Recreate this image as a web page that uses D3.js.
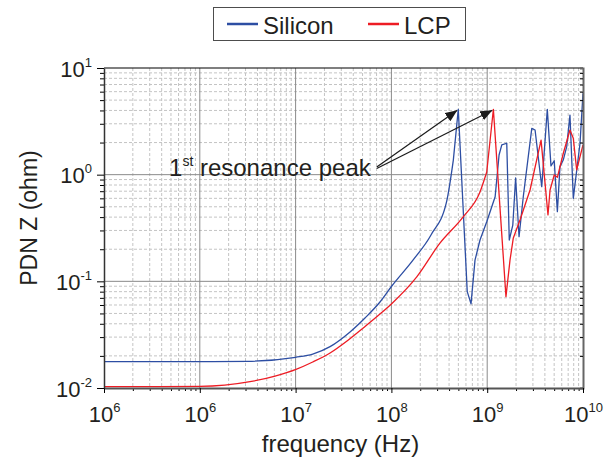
<!DOCTYPE html>
<html>
<head>
<meta charset="utf-8">
<script src="https://cdn.jsdelivr.net/npm/d3@7"></script>
<style>
  body { margin: 0; background: #fff; }
  svg text { font-family: "Liberation Sans", Arial, sans-serif; fill: #231f20; }
</style>
</head>
<body>
<div id="chart"></div>
<script>
// Giá trị: tần số (Hz) và trở kháng PDN (ohm)
const siliconFreq = [1e5, 1e6, 3.16e6, 1.0e7, 1.51e7, 2.29e7, 3.70e7, 5.30e7, 7.6e7, 1.01e8,
  1.68e8, 2.59e8, 3.78e8, 4.43e8, 4.99e8, 6.19e8, 6.78e8, 7.46e8, 8.41e8, 9.89e8,
  1.21e9, 1.33e9, 1.42e9, 1.60e9, 1.70e9, 1.85e9, 1.98e9, 2.15e9, 2.38e9, 2.92e9,
  3.16e9, 3.71e9, 4.24e9, 4.63e9, 5.01e9, 5.40e9, 5.75e9, 6.22e9, 6.76e9, 7.31e9,
  7.92e9, 9.31e9, 1.0e10];
const siliconZ = [0.01766, 0.01766, 0.0178, 0.0194, 0.0208, 0.0244, 0.0335, 0.0453, 0.064, 0.0904,
  0.158, 0.272, 0.566, 1.37, 4.10, 0.080, 0.0614, 0.158, 0.244, 0.362,
  0.621, 1.53, 1.90, 1.97, 0.244, 0.337, 0.931, 0.262, 0.621, 2.72,
  2.62, 0.771, 4.10, 1.21, 1.35, 0.450, 1.19, 1.37, 1.83, 3.62,
  0.600, 1.97, 5.8];

const lcpFreq = [1e5, 1e6, 3.34e6, 6.10e6, 1.01e7, 1.51e7, 2.29e7, 3.44e7, 5.08e7, 7.6e7,
  1.0e8, 1.84e8, 3.21e8, 5.64e8, 8.41e8, 9.89e8, 1.16e9, 1.57e9, 1.73e9, 1.87e9,
  2.20e9, 2.80e9, 3.65e9, 4.31e9, 4.53e9, 5.01e9, 5.40e9, 6.22e9, 7.31e9, 7.92e9,
  8.59e9, 1.0e10];
const lcpZ = [0.0103, 0.01035, 0.01146, 0.01294, 0.01496, 0.01754, 0.0213, 0.0276, 0.0366, 0.0494,
  0.0614, 0.110, 0.228, 0.404, 0.689, 1.06, 4.10, 0.0718, 0.158, 0.253,
  0.376, 0.718, 2.11, 0.419, 0.718, 0.993, 0.944, 1.58, 2.62, 2.19,
  1.11, 1.90];

// đoạn đầu (trơn) của mỗi đường kết thúc ở chỉ số này, sau đó là các đỉnh cộng hưởng
const siliconSmoothEnd = 13;
const lcpSmoothEnd = 15;

// Nhãn trục (số mũ của 10) - giữ nguyên như hình gốc
const xTickValues = [1e5, 1e6, 1e7, 1e8, 1e9, 1e10];
const xTickExp = ["6", "6", "7", "8", "9", "10"];
const yTickValues = [1e-2, 1e-1, 1e0, 1e1];
const yTickExp = ["-2", "-1", "0", "1"];

// Điểm đuôi mũi tên của chú thích (theo toạ độ dữ liệu)
const annotTail = { f: 7.03e7, z: 1.18 };
const seriesNames = ["Silicon", "LCP"];
const seriesColors = ["#2d4ea3", "#ed1c24"];

function drawChart(containerSelector) {
    const W = 615, H = 464;
    const margin = { top: 68, right: 32, bottom: 76, left: 104 };
    const width = W - margin.left - margin.right;
    const height = H - margin.top - margin.bottom;

    const root = d3.select(containerSelector).append("svg")
        .attr("width", W)
        .attr("height", H);

    const svg = root.append("g")
        .attr("transform", `translate(${margin.left},${margin.top})`);

    const x = d3.scaleLog().domain([1e5, 1e10]).range([0, width]);
    const y = d3.scaleLog().domain([1e-2, 1e1]).range([height, 0]);

    // vạch phụ 2..9 trong mỗi decade
    const minorX = [];
    for (let e = 5; e < 10; e++) for (let k = 2; k <= 9; k++) minorX.push(k * 10 ** e);
    const minorY = [];
    for (let e = -2; e < 1; e++) for (let k = 2; k <= 9; k++) minorY.push(k * 10 ** e);

    // Lưới phụ (nét đứt)
    svg.append("g").selectAll("line").data(minorX).join("line")
        .attr("x1", d => x(d)).attr("x2", d => x(d))
        .attr("y1", 0).attr("y2", height)
        .attr("stroke", "#c4c4c4").attr("stroke-dasharray", "3,2");
    svg.append("g").selectAll("line").data(minorY).join("line")
        .attr("y1", d => y(d)).attr("y2", d => y(d))
        .attr("x1", 0).attr("x2", width)
        .attr("stroke", "#c4c4c4").attr("stroke-dasharray", "3,2");

    // Lưới chính
    svg.append("g").selectAll("line").data(xTickValues.slice(1, -1)).join("line")
        .attr("x1", d => x(d)).attr("x2", d => x(d))
        .attr("y1", 0).attr("y2", height)
        .attr("stroke", "#8a8a8a");
    svg.append("g").selectAll("line").data(yTickValues.slice(1, -1)).join("line")
        .attr("y1", d => y(d)).attr("y2", d => y(d))
        .attr("x1", 0).attr("x2", width)
        .attr("stroke", "#8a8a8a");

    // Đường dữ liệu: phần trơn dùng curveMonotoneX, phần cộng hưởng nối thẳng
    const smoothLine = d3.line().curve(d3.curveMonotoneX)
        .x(d => x(d[0])).y(d => y(d[1]));
    const sharpLine = d3.line()
        .x(d => x(d[0])).y(d => y(d[1]));

    function drawSeries(freq, z, smoothEnd, color) {
        const pts = freq.map((f, i) => [f, z[i]]);
        const d = smoothLine(pts.slice(0, smoothEnd + 1)) +
            sharpLine(pts.slice(smoothEnd)).replace(/^M/, "L");
        svg.append("path")
            .attr("fill", "none").attr("stroke", color)
            .attr("stroke-width", 1.3).attr("stroke-linejoin", "round")
            .attr("d", d);
    }
    drawSeries(siliconFreq, siliconZ, siliconSmoothEnd, seriesColors[0]);
    drawSeries(lcpFreq, lcpZ, lcpSmoothEnd, seriesColors[1]);

    // Khung: trên và phải
    svg.append("line").attr("x1", 0).attr("x2", width).attr("y1", 0).attr("y2", 0)
        .attr("stroke", "#000").attr("stroke-width", 1.2);
    const rightMinor = svg.append("g").attr("transform", `translate(${width},0)`)
        .call(d3.axisRight(y).tickValues(minorY).tickSize(-3).tickFormat(""));
    rightMinor.select(".domain").attr("stroke", "#666").attr("stroke-width", 2);
    rightMinor.selectAll(".tick line").attr("stroke", "#000");

    // Trục X
    svg.append("g").attr("transform", `translate(0,${height})`)
        .call(d3.axisBottom(x).tickValues(minorX).tickSize(3).tickFormat(""))
        .call(g => g.select(".domain").remove());
    const xAxis = svg.append("g").attr("transform", `translate(0,${height})`)
        .call(d3.axisBottom(x).tickValues(xTickValues).tickSize(5).tickSizeOuter(0));
    xAxis.select(".domain").attr("stroke", "#555").attr("stroke-width", 1.8);
    xAxis.selectAll(".tick text")
        .attr("y", 34).attr("dy", null)
        .attr("font-size", 22)
        .each(function(d, i) {
            const t = d3.select(this).text(null);
            t.append("tspan").text("10");
            t.append("tspan").attr("dy", -10).attr("font-size", 13).text(xTickExp[i]);
        });

    // Trục Y
    svg.append("g")
        .call(d3.axisLeft(y).tickValues(minorY).tickSize(4).tickFormat(""))
        .call(g => g.select(".domain").remove());
    const yAxis = svg.append("g")
        .call(d3.axisLeft(y).tickValues(yTickValues).tickSize(7).tickSizeOuter(0));
    yAxis.select(".domain").attr("stroke", "#333").attr("stroke-width", 1.5);
    yAxis.selectAll(".tick text")
        .attr("x", -12).attr("dy", 8)
        .attr("font-size", 22)
        .each(function(d, i) {
            const t = d3.select(this).text(null);
            t.append("tspan").text("10");
            t.append("tspan").attr("dy", -10).attr("font-size", 13).text(yTickExp[i]);
        });

    // Tiêu đề trục
    svg.append("text")
        .attr("x", width / 2 - 3).attr("y", height + 64)
        .attr("text-anchor", "middle").attr("font-size", 24)
        .text("frequency (Hz)");
    svg.append("text")
        .attr("transform", `translate(${-margin.left + 37},${height / 2 - 10}) rotate(-90)`)
        .attr("text-anchor", "middle").attr("font-size", 23)
        .text("PDN Z (ohm)");

    // Chú thích "1st resonance peak" với 2 mũi tên
    root.append("defs").append("marker")
        .attr("id", "arrow")
        .attr("markerUnits", "userSpaceOnUse")
        .attr("viewBox", "0 0 12 10")
        .attr("refX", 12).attr("refY", 5)
        .attr("markerWidth", 12).attr("markerHeight", 10)
        .attr("orient", "auto")
      .append("path")
        .attr("d", "M0,0 L12,5 L0,10 Z")
        .attr("fill", "#1a1a1a");

    const iPeakSi = siliconZ.indexOf(d3.max(siliconZ.slice(0, 20)));
    const iPeakLcp = lcpZ.indexOf(d3.max(lcpZ.slice(0, 20)));
    const tx = x(annotTail.f), ty = y(annotTail.z);
    [[siliconFreq[iPeakSi], siliconZ[iPeakSi]], [lcpFreq[iPeakLcp], lcpZ[iPeakLcp]]].forEach((p, k) => {
        svg.append("line")
            .attr("x1", tx).attr("y1", ty + k * 1.5)
            .attr("x2", x(p[0]) - 1).attr("y2", y(p[1]) + 1)
            .attr("stroke", "#1a1a1a").attr("stroke-width", 1.2)
            .attr("marker-end", "url(#arrow)");
    });

    const annot = svg.append("text")
        .attr("x", tx - 6).attr("y", ty + 9)
        .attr("text-anchor", "end").attr("font-size", 24);
    annot.append("tspan").text("1");
    annot.append("tspan").attr("dy", -10).attr("font-size", 14).text("st");
    annot.append("tspan").attr("dy", 10).text(" resonance peak");

    // Chú giải
    const legend = root.append("g").attr("transform", "translate(213,7)");
    legend.append("rect")
        .attr("x", 0.5).attr("y", 0.5).attr("width", 252).attr("height", 33)
        .attr("fill", "#fff").attr("stroke", "#4d4d4d").attr("stroke-width", 1);
    const legendX = [14, 155];
    seriesNames.forEach((name, i) => {
        legend.append("line")
            .attr("x1", legendX[i]).attr("x2", legendX[i] + 31)
            .attr("y1", 17).attr("y2", 17)
            .attr("stroke", seriesColors[i]).attr("stroke-width", 2.5);
        legend.append("text")
            .attr("x", legendX[i] + 36).attr("y", 27)
            .attr("font-size", 24)
            .text(name);
    });
}

drawChart("#chart");
</script>
</body>
</html>
